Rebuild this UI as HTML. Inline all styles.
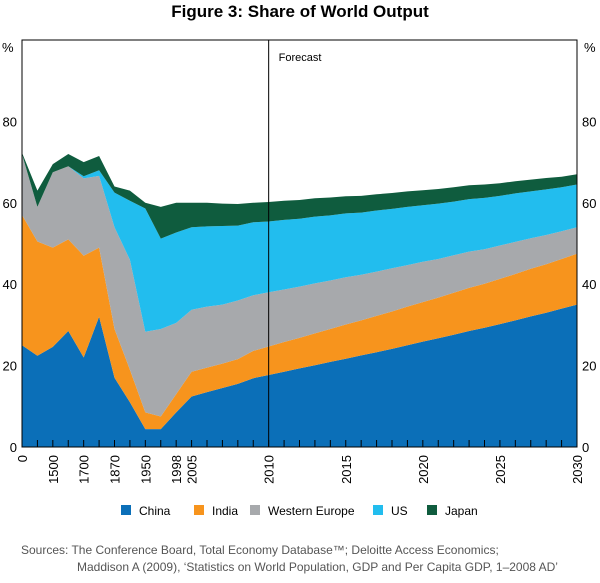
<!DOCTYPE html>
<html><head><meta charset="utf-8"><style>
body{margin:0;background:#fff;width:600px;height:578px;overflow:hidden;font-family:"Liberation Sans",sans-serif}
</style></head><body>
<svg id="chart" width="600" height="578" xmlns="http://www.w3.org/2000/svg" font-family="Liberation Sans, sans-serif">
<text x="300" y="17" text-anchor="middle" font-size="17" font-weight="bold">Figure 3: Share of World Output</text>
<g id="areas"></g>
<g id="axes"></g>
</svg>
<script>
const categories=["0","1000","1500","1600","1700","1820","1870","1913","1950","1973","1998","2005","2006","2007","2008","2009","2010","2011","2012","2013","2014","2015","2016","2017","2018","2019","2020","2021","2022","2023","2024","2025","2026","2027","2028","2029","2030"];
const china=[25,22.4,24.6,28.5,22,32,17,11,4.4,4.4,8.5,12.4,13.5,14.5,15.5,16.9,17.7,18.5,19.3,20.1,20.9,21.7,22.5,23.3,24.1,25.0,25.9,26.7,27.6,28.5,29.3,30.2,31.1,32.1,33.0,34.0,35.0];
const india=[32,28.1,24.4,22.5,25,17,12,8,4.1,3.1,4.5,6.1,6,6,6.1,6.7,7,7.3,7.5,7.8,8.1,8.4,8.6,8.9,9.2,9.5,9.7,10.0,10.3,10.6,10.8,11.1,11.4,11.7,11.9,12.2,12.5];
const westernEurope=[15,8.5,18.5,18,19,17.6,25,27,19.8,21.5,17.5,15.2,15,14.5,14.4,13.7,13.3,12.9,12.6,12.3,11.9,11.6,11.2,10.9,10.6,10.2,9.9,9.5,9.2,8.9,8.5,8.2,7.9,7.5,7.2,6.8,6.5];
const us=[0,0,0,0,0.5,1.4,8.5,14.5,30.3,22.2,22.2,20.3,19.7,19.3,18.4,17.9,17.4,17.1,16.7,16.4,16.0,15.7,15.3,15.0,14.6,14.3,13.9,13.6,13.2,12.9,12.6,12.2,11.9,11.5,11.2,10.8,10.5];
const japan=[0.3,4,2,3,3.5,3.5,1.5,2.5,1.4,7.8,7.3,6,5.8,5.5,5.3,4.8,4.8,4.7,4.6,4.5,4.4,4.2,4.1,4.0,3.9,3.8,3.7,3.6,3.5,3.4,3.3,3.1,3.0,2.9,2.8,2.6,2.5];
const xLabels=["0","1500","1700","1870","1950","1998","2005","2010","2015","2020","2025","2030"];
const yTicks=[0,20,40,60,80];
const seriesNames=["China","India","Western Europe","US","Japan"];
const colors=["#0b6fb8","#f7941d","#a7a9ac","#22bdee","#0f5c3e"];
const L=22,R=577,T=40,B=447;
const x=i=>L+(R-L)*i/(categories.length-1);
const y=v=>B-(B-T)*v/100;
const NS="http://www.w3.org/2000/svg";
function mk(tag,attrs,parent){const e=document.createElementNS(NS,tag);for(const k in attrs)e.setAttribute(k,attrs[k]);parent.appendChild(e);return e;}
const areas=document.getElementById('areas'),axes=document.getElementById('axes');
const series=[china,india,westernEurope,us,japan];
let base=categories.map(()=>0);
series.forEach((s,si)=>{
  const top=base.map((b,i)=>b+s[i]);
  let d="M"+categories.map((c,i)=>x(i).toFixed(1)+","+y(top[i]).toFixed(1)).join("L");
  for(let i=categories.length-1;i>=0;i--)d+="L"+x(i).toFixed(1)+","+y(base[i]).toFixed(1);
  const p=mk('path',{d:d+"Z",fill:colors[si]},areas);
  
  
  base=top;
});
const box=mk('rect',{x:L,y:T,width:R-L,height:B-T,fill:'none',stroke:'#000','stroke-width':1},axes);


const fi=categories.indexOf("2010");
const fl=mk('line',{x1:x(fi),x2:x(fi),y1:T,y2:B,stroke:'#000','stroke-width':1},axes);


const ft=mk('text',{x:x(fi)+10,y:61,'font-size':11},axes);ft.textContent="Forecast";


categories.forEach((c,i)=>{
  const t=mk('line',{x1:x(i),x2:x(i),y1:B,y2:B-7,stroke:'#000','stroke-width':1},axes);
  
  
});
xLabels.forEach(lb=>{
  const i=categories.indexOf(lb);
  const t=mk('text',{transform:`translate(${x(i)+5},${455}) rotate(-90)`,'text-anchor':'end','font-size':13},axes);
  t.textContent=lb;
  
  
});
yTicks.forEach(v=>{
  const a=mk('text',{x:L-5,y:y(v)+5,'text-anchor':'end','font-size':13},axes);a.textContent=v;
  
  
  const b=mk('text',{x:R+5,y:y(v)+5,'font-size':13},axes);b.textContent=v;
  
  
});
const pl=mk('text',{x:2,y:52,'font-size':13},axes);pl.textContent="%";


const pr=mk('text',{x:584,y:52,'font-size':13},axes);pr.textContent="%";


const legX=[121,194,250,373,427];
seriesNames.forEach((n,i)=>{
  const g=mk('g',{},axes);
  
  
  mk('rect',{x:legX[i],y:505,width:10,height:10,fill:colors[i]},g);
  const t=mk('text',{x:legX[i]+18,y:515,'font-size':12},g);t.textContent=n;
});
const s1=mk('text',{x:21,y:554,'font-size':12,fill:'#555'},axes);s1.textContent="Sources:  The Conference Board, Total Economy Database™; Deloitte Access Economics;";


const s2=mk('text',{x:77,y:571,'font-size':12,fill:'#555'},axes);s2.textContent="Maddison A (2009), ‘Statistics on World Population, GDP and Per Capita GDP, 1–2008 AD’";


</script>
</body></html>
